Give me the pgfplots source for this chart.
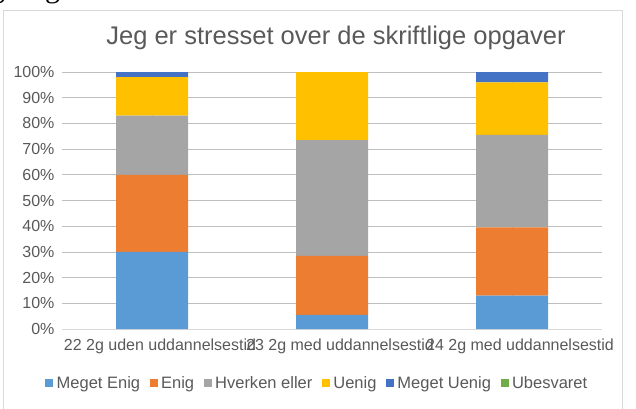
\documentclass[border=0pt]{standalone}
\usepackage{fontspec}
\setmainfont{Liberation Sans}
\newfontfamily\seriffont{Liberation Serif}
\usepackage{pgfplots}
\pgfplotsset{compat=1.18}
\definecolor{cMeEnig}{HTML}{5B9BD5}
\definecolor{cEnig}{HTML}{ED7D31}
\definecolor{cHverken}{HTML}{A5A5A5}
\definecolor{cUenig}{HTML}{FFC000}
\definecolor{cMeUenig}{HTML}{4472C4}
\definecolor{cUbesv}{HTML}{70AD47}
\definecolor{txt}{HTML}{595959}
\definecolor{grid}{HTML}{D9D9D9}

\pgfplotstableread{
x  meenig enig hverken uenig meuenig ubesv
0  30     30   23      15    2       0
1  5.5    23   45      26.5  0       0
2  13     26.5 36      20.5  4       0
}\svar

\begin{document}
\begin{tikzpicture}[x=1pt,y=1pt]
\path[use as bounding box] (0pt,0pt) rectangle (636pt,408pt);
\begin{scope}
  \clip (0pt,0pt) rectangle (636pt,408pt);
  % descenders of a line of text above the chart, cut off by the page edge
  \node[anchor=base west, inner sep=0, font=\seriffont\fontsize{30}{30}\selectfont] at (-10pt,410.5pt) {g};
  \node[anchor=base west, inner sep=0, font=\seriffont\fontsize{30}{30}\selectfont] at (45pt,410.5pt) {g};
  \draw[grid, line width=0.8pt] (3pt,-5pt) rectangle (622pt,398pt);
\end{scope}
\node[text=txt, font=\fontsize{25.5}{28}\selectfont] at (336pt,370pt) {Jeg er stresset over de skriftlige opgaver};
\begin{axis}[
  at={(62pt,79pt)}, anchor=south west,
  scale only axis, width=540pt, height=257pt,
  xmin=-0.5, xmax=2.5, ymin=0, ymax=100,
  ybar stacked, bar width=72pt,
  axis lines*=left,
  x axis line style={grid, line width=0.8pt},
  y axis line style={draw=none},
  major tick length=0pt,
  ymajorgrids, grid style={grid, line width=0.8pt},
  ytick={0,10,...,100},
  yticklabel={\pgfmathprintnumber{\tick}\%},
  xtick={0,1,2},
  xticklabels={22 2g uden uddannelsestid, 23 2g med uddannelsestid, 24 2g med uddannelsestid},
  tick label style={text=txt, font=\fontsize{16}{18}\selectfont},
  xticklabel style={yshift=-6pt, xshift=8pt},
  yticklabel style={xshift=-4pt},
  /pgf/number format/assume math mode=true,
  legend columns=6,
  legend style={at={(0.474,-0.21)}, anchor=center, draw=none, fill=none,
    font=\fontsize{16.5}{18}\selectfont, text=txt,
    nodes={inner xsep=3.5pt},
    /tikz/every even column/.append style={column sep=6pt}},
  legend image code/.code={\fill[#1] (0pt,-4pt) rectangle (8pt,4pt);},
]
\addplot[fill=cMeEnig, draw=none] table[x=x, y=meenig] {\svar};
\addplot[fill=cEnig, draw=none] table[x=x, y=enig] {\svar};
\addplot[fill=cHverken, draw=none] table[x=x, y=hverken] {\svar};
\addplot[fill=cUenig, draw=none] table[x=x, y=uenig] {\svar};
\addplot[fill=cMeUenig, draw=none] table[x=x, y=meuenig] {\svar};
\addplot[fill=cUbesv, draw=none] table[x=x, y=ubesv] {\svar};
\legend{Meget Enig, Enig, Hverken eller, Uenig, Meget Uenig, Ubesvaret}
\end{axis}
\end{tikzpicture}
\end{document}
